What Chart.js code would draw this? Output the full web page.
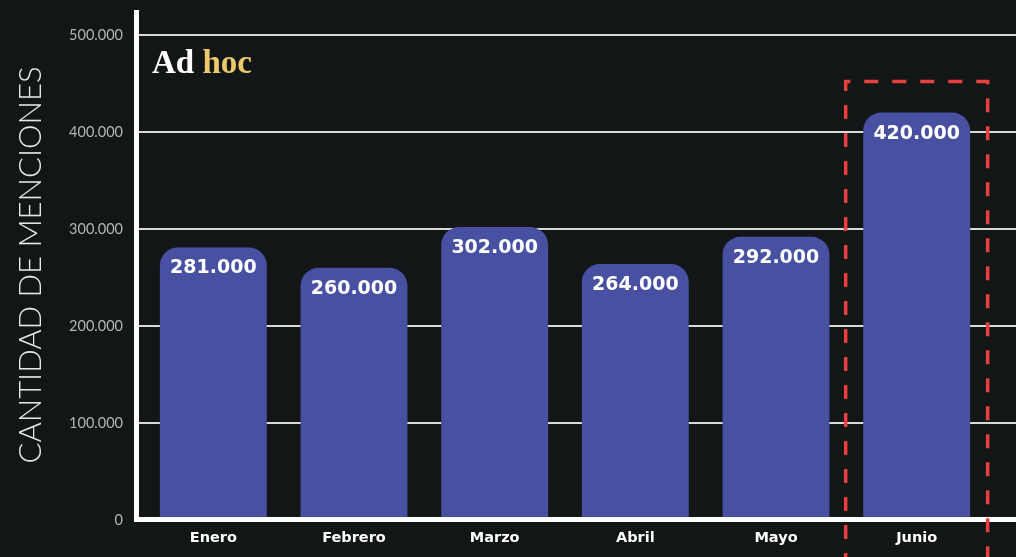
<!DOCTYPE html>
<html>
<head>
<meta charset="utf-8">
<script src="https://cdn.jsdelivr.net/npm/chart.js@4.4.1/dist/chart.umd.min.js"></script>
<style>
  html, body { margin: 0; padding: 0; background: #131617; }
  #wrap { width: 1016px; height: 557px; position: relative; }
</style>
</head>
<body>
<div id="wrap"><canvas id="myChart"></canvas></div>
<script>
const categories = ['Enero', 'Febrero', 'Marzo', 'Abril', 'Mayo', 'Junio'];
const mentions = [281000, 260000, 302000, 264000, 292000, 420000];
const highlightIndex = 5;
const yMax = 500000;
const yStep = 100000;
const yTitle = 'CANTIDAD DE MENCIONES';

const fmt = (v) => String(v).replace(/\B(?=(\d{3})+(?!\d))/g, '.');

const decor = {
    id: 'decor',
    beforeDatasetsDraw(chart) {
        const { ctx, scales: { y }, chartArea } = chart;
        ctx.save();
        ctx.strokeStyle = '#d9d9d9';
        ctx.lineWidth = 2;
        for (let v = yStep; v <= yMax; v += yStep) {
            const py = Math.round(y.getPixelForValue(v));
            ctx.beginPath();
            ctx.moveTo(chartArea.left - 9, py);
            ctx.lineTo(chart.width, py);
            ctx.stroke();
        }
        ctx.restore();
    },
    afterDatasetsDraw(chart) {
        const { ctx, scales: { x, y }, chartArea } = chart;
        const bars = chart.getDatasetMeta(0).data;
        ctx.save();

        // value labels inside bars
        ctx.fillStyle = '#ffffff';
        ctx.font = 'bold 19px "DejaVu Sans"';
        ctx.textAlign = 'center';
        ctx.textBaseline = 'middle';
        bars.forEach((bar, i) => {
            ctx.fillText(fmt(mentions[i]), bar.x, bar.y + 21);
        });

        // axis lines
        ctx.fillStyle = '#ffffff';
        const zeroY = y.getPixelForValue(0);
        ctx.fillRect(chartArea.left - 9, zeroY - 3, chart.width, 5);
        ctx.fillRect(chartArea.left - 9, 10, 5, zeroY - 8);

        // y title (drawn by hand, sits a bit above the axis centre)
        ctx.save();
        ctx.translate(31, 265);
        ctx.rotate(-Math.PI / 2);
        ctx.font = '300 31px Lato';
        ctx.fillStyle = '#e6e6e6';
        ctx.fillText(yTitle, 0, 0);
        ctx.restore();

        // highlight box
        const cx = x.getPixelForValue(highlightIndex);
        const top = y.getPixelForValue(mentions[highlightIndex]) - 31;
        ctx.strokeStyle = '#e8403f';
        ctx.lineWidth = 3.5;
        ctx.setLineDash([14, 14]);
        ctx.beginPath();
        ctx.moveTo(cx - 71, chart.height + 10);
        ctx.lineTo(cx - 71, top);
        ctx.lineTo(cx + 71, top);
        ctx.lineTo(cx + 71, chart.height + 10);
        ctx.stroke();
        ctx.setLineDash([]);

        // logo
        ctx.textAlign = 'left';
        ctx.textBaseline = 'alphabetic';
        ctx.font = 'bold 33px "Liberation Serif"';
        ctx.fillStyle = '#ffffff';
        ctx.fillText('Ad', chartArea.left + 9, 73);
        const w = ctx.measureText('Ad ').width;
        ctx.fillStyle = '#ecc96a';
        ctx.fillText('hoc', chartArea.left + 9 + w, 73);
        ctx.restore();
    }
};

const lineChart = new Chart(document.getElementById('myChart'), {
    type: 'bar',
    data: {
        labels: categories,
        datasets: [{
            data: mentions,
            backgroundColor: '#4750a1',
            borderRadius: { topLeft: 18, topRight: 18, bottomLeft: 0, bottomRight: 0 },
            borderSkipped: 'bottom',
            barPercentage: 0.76,
            categoryPercentage: 1,
        }]
    },
    options: {
        responsive: true,
        maintainAspectRatio: false,
        animation: false,
        layout: { padding: { top: 35, right: 29, left: 0, bottom: 0 } },
        plugins: { legend: { display: false }, tooltip: { enabled: false } },
        scales: {
            x: {
                grid: { display: false, drawTicks: false },
                border: { display: false },
                ticks: { color: '#ffffff', font: { family: '"DejaVu Sans"', size: 14.5, weight: 'bold' }, padding: 10 },
                afterFit(scale) { scale.height = 37; }
            },
            y: {
                min: 0,
                max: yMax,
                grid: { display: false, drawTicks: false },
                border: { display: false },
                ticks: {
                    stepSize: yStep,
                    color: '#b4b4b4',
                    font: { family: 'Lato', size: 14.5 },
                    padding: 20,
                    callback: (v) => fmt(v)
                },
                afterFit(scale) { scale.width = 143; }
            }
        }
    },
    plugins: [decor]
});
</script>
</body>
</html>
